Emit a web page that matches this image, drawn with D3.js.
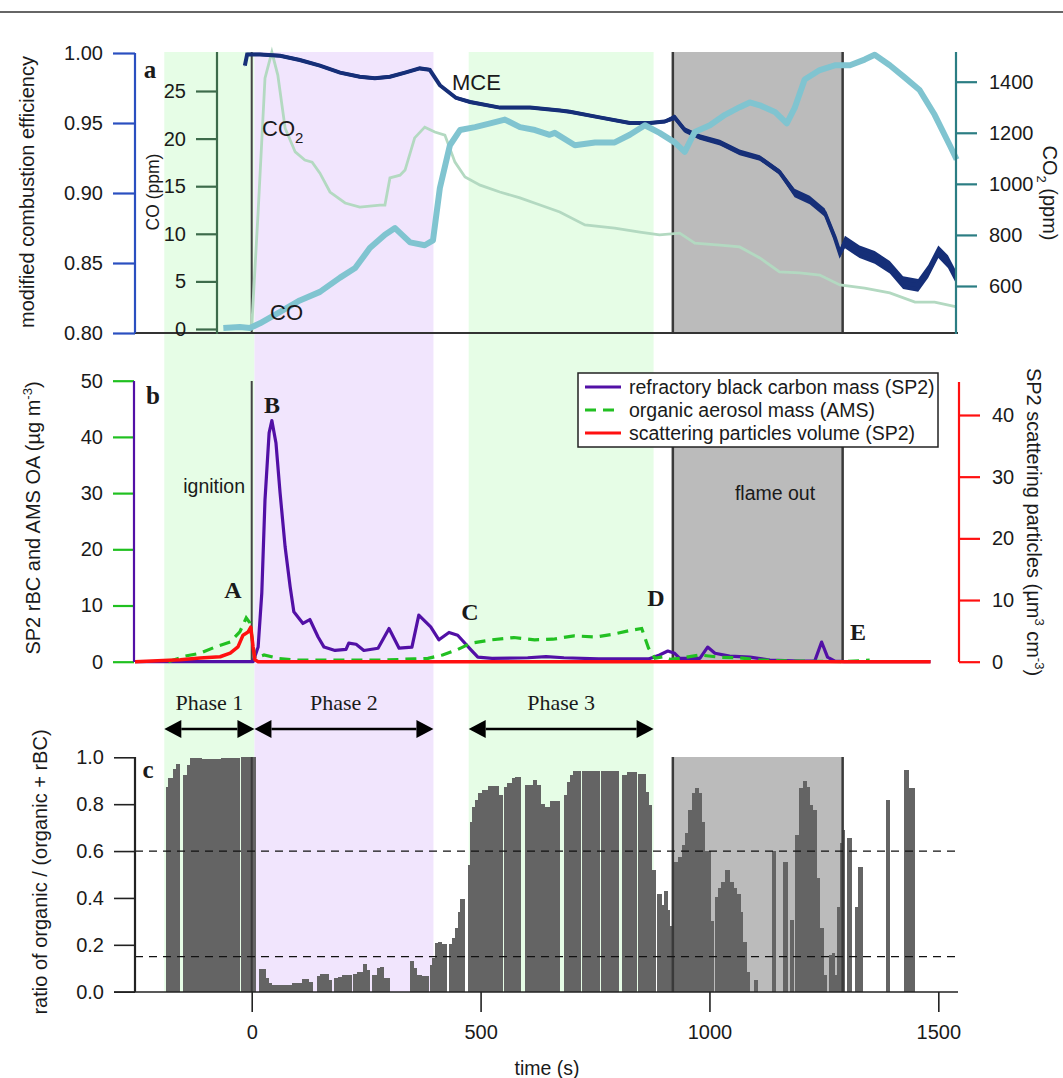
<!DOCTYPE html>
<meta charset="utf-8">
<head>
<title>Combustion phases</title>
<script src="https://cdnjs.cloudflare.com/ajax/libs/d3/7.8.5/d3.min.js"></script>
<style>
  body { margin: 0; background: #fff; }
  svg text { font-family: "Liberation Sans", Arial, sans-serif; fill: #1a1a1a; }
  svg text.serif { font-family: "Liberation Serif", "Times New Roman", serif; font-weight: bold; }
</style>
</head>
<body>
<div id="chart"></div>
<script>
// ---- data ----
// panel a: modified combustion efficiency, CO and CO2 vs time (s)
var mceT = [-15,-10,18,62,105,149,193,236,269,302,335,367,389,411,446,477,542,608,673,695,760,826,870,902,924,946,979,1023,1066,1110,1153,1186,1219,1252,1274,1285,1296,1328,1361,1394,1423,1456,1478,1500,1521,1537];
var mceV = [0.991,0.999,0.999,0.998,0.995,0.991,0.986,0.983,0.982,0.983,0.986,0.989,0.988,0.977,0.968,0.965,0.961,0.961,0.959,0.958,0.954,0.950,0.950,0.951,0.954,0.945,0.940,0.936,0.929,0.925,0.915,0.900,0.895,0.886,0.868,0.857,0.865,0.858,0.854,0.847,0.836,0.834,0.844,0.858,0.851,0.841];
// spread of the noisy MCE trace (MCE units)
var mceNoise = [0.0012,0.0012,0.0012,0.0012,0.0012,0.0012,0.0012,0.0012,0.0012,0.0012,0.0012,0.0012,0.0012,0.0012,0.0012,0.0012,0.0012,0.0012,0.0012,0.0012,0.0012,0.0012,0.0012,0.0012,0.002,0.002,0.002,0.002,0.002,0.002,0.002,0.003,0.003,0.003,0.003,0.003,0.0045,0.0045,0.0045,0.0045,0.0045,0.0045,0.0045,0.0045,0.0045,0.0045];

var coT = [-62,-26,-4,18,62,105,149,193,226,258,291,313,346,378,396,411,433,455,488,521,553,586,619,651,662,706,750,793,826,859,891,924,946,968,1001,1034,1066,1088,1110,1143,1169,1186,1208,1241,1274,1307,1339,1361,1394,1427,1459,1492,1525,1540];
var coV = [0.1,0.2,0.1,0.6,1.8,3.0,3.9,5.4,6.4,8.5,9.9,10.6,9.1,8.8,9.3,14.8,19.3,20.9,21.2,21.6,22.0,21.2,20.9,20.4,20.6,19.3,19.6,19.6,20.4,21.4,20.6,19.6,18.6,20.7,21.4,22.5,23.3,23.8,23.5,22.8,21.6,23.2,26.2,27.2,27.7,27.7,28.3,28.8,27.7,26.4,25.1,22.5,19.3,17.8];

var co2T = [0,14,29,44,57,73,95,116,132,149,171,204,236,280,291,302,324,335,356,378,400,422,444,466,499,542,586,630,673,728,793,848,891,935,968,1023,1066,1110,1153,1197,1241,1285,1339,1394,1449,1492,1540];
var co2V = [440,890,1414,1516,1426,1218,1125,1093,1085,1042,968,925,909,917,917,1023,1034,1054,1180,1222,1203,1191,1085,1027,995,968,945,917,890,839,827,811,800,807,768,760,753,710,655,651,643,604,592,573,537,537,518];

// panel b: rBC, OA (ug m-3) and scattering particle volume (um3 cm-3)
var rbcT = [-255,3,14,22,29,38,44,53,62,73,84,92,112,127,145,158,182,206,212,228,245,276,300,322,350,365,391,409,431,450,479,494,525,603,643,682,758,867,891,909,924,935,979,996,1012,1044,1088,1132,1197,1230,1245,1258,1274,1295,1483];
var rbcV = [0,0,2.6,12.2,28.8,40.7,42.9,38.9,30,20.4,13.3,8.9,6.8,7.5,4.4,2.6,2.0,2.2,3.3,3.1,2.0,2.4,5.9,2.4,2.6,8.3,6.2,3.9,5.2,4.7,2.1,0.8,0.6,0.7,0.9,0.7,0.5,0.5,1.2,1.9,1.5,0.6,0.6,2.6,1.5,1.0,0.8,0.3,0.1,0.1,3.5,0.8,0.1,0,0];

var oaT = [-182,-146,-113,-80,-47,-26,-12,-4,7,27,57,97,182,291,354,385,417,448,479,525,573,618,658,704,752,791,828,852,867,881,900,915,935,979,1022,1066,1110,1197,1295,1350];
var oaV = [0,1.0,1.5,2.6,3.5,5.3,7.8,6.9,0.6,1.2,0.6,0.3,0.3,0.3,0.5,0.6,1.2,2.1,3.3,3.9,4.3,3.9,4.0,4.6,4.4,4.9,5.6,5.9,2.4,0.6,0.9,0.4,0.6,1.2,0.8,0.7,0.3,0.1,0,0.3];

var scatT = [-255,-156,-113,-69,-47,-30,-19,-8,-2,3,7,14,1483];
var scatV = [0,0.3,0.6,0.8,1.4,2.4,4.3,4.8,5.6,2.4,0.3,0,0];

// panel c: ratio organic / (organic + rBC), bars as [start s, end s, ratio]
var ratioBars = [
  [-188,-182,0.875],[-182,-173,0.91],[-173,-166,0.95],[-166,-157,0.97],
  [-151,-142,0.925],[-142,-135,0.967],[-135,-111,0.995],
  [-108,-69,0.993],[-67,-28,0.995],[-24,7,1.0],
  [16,29,0.097],[29,36,0.057],[36,44,0.036],[44,57,0.028],
  [58,87,0.028],[87,109,0.035],[109,124,0.053],[124,133,0.043],
  [142,149,0.068],[149,167,0.074],[167,175,0.05],
  [180,189,0.057],[189,197,0.064],[197,218,0.071],
  [222,229,0.074],[229,244,0.085],[244,251,0.12],[251,258,0.092],
  [262,273,0.071],[273,280,0.1],[280,287,0.107],[287,300,0.057],
  [346,353,0.13],[353,360,0.1],[360,371,0.071],[371,386,0.068],
  [389,394,0.114],[394,400,0.142],[400,408,0.206],[408,415,0.213],[415,426,0.202],
  [431,437,0.202],[437,444,0.228],[444,450,0.27],[450,455,0.34],[455,464,0.395],
  [472,477,0.54],[477,482,0.725],[482,488,0.79],[488,495,0.818],[495,502,0.846],[502,517,0.86],[517,539,0.879],[539,548,0.84],
  [552,557,0.875],[557,568,0.89],[568,576,0.91],[576,588,0.917],
  [597,615,0.88],[615,622,0.903],[622,630,0.88],[630,640,0.8],[640,651,0.79],[651,672,0.815],
  [682,688,0.84],[688,695,0.896],[695,702,0.925],[702,717,0.943],
  [721,759,0.94],[763,801,0.942],
  [808,819,0.925],[819,841,0.936],
  [844,859,0.927],[859,866,0.853],[866,873,0.797],[873,883,0.52],
  [886,895,0.415],[895,901,0.37],[901,908,0.43],[908,913,0.35],[913,921,0.28],
  [923,932,0.555],[932,939,0.576],[939,946,0.626],[946,953,0.676],[953,961,0.775],[961,968,0.846],[968,975,0.868],[975,983,0.846],[983,990,0.725],[990,1001,0.6],[1001,1008,0.3],
  [1012,1019,0.405],[1019,1026,0.441],[1026,1034,0.47],[1034,1044,0.52],[1044,1052,0.47],[1052,1059,0.441],[1059,1068,0.415],[1068,1073,0.34],[1073,1081,0.213],[1081,1088,0.085],
  [1097,1105,0.05],
  [1137,1145,0.6],[1161,1170,0.555],[1175,1184,0.306],
  [1186,1196,0.67],[1196,1205,0.868],[1205,1211,0.9],[1211,1218,0.875],[1218,1226,0.797],[1226,1233,0.775],[1233,1241,0.484],[1241,1248,0.27],[1248,1255,0.071],
  [1261,1268,0.156],[1268,1274,0.164],[1274,1278,0.071],[1278,1285,0.363],[1285,1292,0.633],[1292,1295,0.69],
  [1301,1310,0.654],[1317,1324,0.363],[1324,1334,0.53],
  [1385,1393,0.818],
  [1426,1434,0.946],[1434,1441,0.868],[1441,1448,0.87]
];
var ratioRefs = [0.6, 0.15];

// burn phases and flame-out period (s)
var phaseNames = ["Phase 1", "Phase 2", "Phase 3"];
var phaseStart = [-191, 6, 474];
var phaseEnd = [6, 397, 878];
var flameOut = [920, 1291];

var mceTicks = [0.80, 0.85, 0.90, 0.95, 1.00];
var coTicks = [0, 5, 10, 15, 20, 25];
var co2Ticks = [600, 800, 1000, 1200, 1400];
var massTicks = [0, 10, 20, 30, 40, 50];
var scatTicks = [0, 10, 20, 30, 40];
var ratioTicks = [0, 0.2, 0.4, 0.6, 0.8, 1.0];
var timeTicks = [0, 500, 1000, 1500];

// ---- layout ----
var w = 1063, h = 1078;
var pa = {top: 52, bottom: 333};
var pb = {top: 381, bottom: 662};
var pc = {top: 757, bottom: 992};

var svg = d3.select("#chart").append("svg").attr("width", w).attr("height", h);

var x = d3.scaleLinear().domain([-255, 1543]).range([135, 958]);
var yMce = d3.scaleLinear().domain([0.8, 1.0]).range([333, 53]);
var yCo = d3.scaleLinear().domain([0, 25]).range([329, 91]);
var yCo2 = d3.scaleLinear().domain([600, 1400]).range([286, 81.7]);
var yMass = d3.scaleLinear().domain([0, 50]).range([661.7, 380.7]);
var yScat = d3.scaleLinear().domain([0, 40]).range([661.7, 415]);
var yRatio = d3.scaleLinear().domain([0, 1]).range([991.7, 757.3]);

// rule at the top of the page
svg.append("line").attr("x1", 0).attr("x2", w).attr("y1", 12).attr("y2", 12)
   .attr("stroke", "#666").attr("stroke-width", 2);

// phase background bands
var bandFill = ["#e6fde6", "#f1e5fd", "#e6fde6"];
svg.selectAll("rect.band").data(phaseNames).enter().append("rect")
   .attr("class", "band")
   .attr("x", function(d, i){ return x(phaseStart[i]); })
   .attr("width", function(d, i){ return x(phaseEnd[i]) - x(phaseStart[i]); })
   .attr("y", pa.top).attr("height", pc.bottom - pa.top)
   .attr("fill", function(d, i){ return bandFill[i]; });

// flame out shading in each panel
[pa, pb, pc].forEach(function(p){
  svg.append("rect").attr("x", x(flameOut[0])).attr("width", x(flameOut[1]) - x(flameOut[0]))
     .attr("y", p.top).attr("height", p.bottom - p.top).attr("fill", "#bbbbbb");
});

function vline(t, p, color, width){
  svg.append("line").attr("x1", x(t)).attr("x2", x(t)).attr("y1", p.top).attr("y2", p.bottom)
     .attr("stroke", color).attr("stroke-width", width);
}

function styleTicks(g, color){
  g.select(".domain").remove();
  g.selectAll(".tick line").attr("stroke", color).attr("stroke-width", 2.2);
  g.selectAll(".tick text").style("font-size", "20px");
}

function axisLine(xp, y1, y2, color){
  svg.append("line").attr("x1", xp).attr("x2", xp).attr("y1", y1).attr("y2", y2)
     .attr("stroke", color).attr("stroke-width", 2.2);
}

function rotTitle(xp, yp, angle, size){
  return svg.append("text").attr("transform", "translate(" + xp + "," + yp + ") rotate(" + angle + ")")
            .attr("text-anchor", "middle").style("font-size", size + "px");
}

// ================= panel a =================
vline(0, pa, "#444", 2);
vline(flameOut[0], pa, "#3a3a3a", 2.5);
vline(flameOut[1], pa, "#3a3a3a", 2.5);

svg.append("path").datum(d3.zip(co2T, co2V))
   .attr("d", d3.line().x(function(d){ return x(d[0]); }).y(function(d){ return yCo2(d[1]); }))
   .attr("fill", "none").attr("stroke", "#b3d9c1").attr("stroke-width", 2.8);

var mceData = d3.zip(mceT, mceV, mceNoise);
svg.append("path").datum(mceData)
   .attr("d", d3.area().x(function(d){ return x(d[0]); })
       .y0(function(d){ return yMce(d[1] - d[2]); }).y1(function(d){ return yMce(d[1] + d[2]); }))
   .attr("fill", "#162f78");
svg.append("path").datum(mceData)
   .attr("d", d3.line().x(function(d){ return x(d[0]); }).y(function(d){ return yMce(d[1]); }))
   .attr("fill", "none").attr("stroke", "#162f78").attr("stroke-width", 4);

svg.append("path").datum(d3.zip(coT, coV))
   .attr("d", d3.line().x(function(d){ return x(d[0]); }).y(function(d){ return yCo(d[1]); }))
   .attr("fill", "none").attr("stroke", "#80c4d0").attr("stroke-width", 6).attr("stroke-linejoin", "round");

// bottom rule of panel a
svg.append("line").attr("x1", 135).attr("x2", 958).attr("y1", pa.bottom).attr("y2", pa.bottom)
   .attr("stroke", "#333").attr("stroke-width", 1.8);

var gMce = svg.append("g").attr("transform", "translate(135,0)")
   .call(d3.axisLeft(yMce).tickValues(mceTicks).tickFormat(d3.format(".2f")).tickSize(22).tickPadding(10));
styleTicks(gMce, "#2a4fc0");
axisLine(135, 53, 333, "#2a4fc0");

var gCo = svg.append("g").attr("transform", "translate(217,0)")
   .call(d3.axisLeft(yCo).tickValues(coTicks).tickSize(21).tickPadding(10));
styleTicks(gCo, "#3d6b4b");
axisLine(217, 52, 334, "#3d6b4b");

var gCo2 = svg.append("g").attr("transform", "translate(956,0)")
   .call(d3.axisRight(yCo2).tickValues(co2Ticks).tickFormat(d3.format("d")).tickSize(21).tickPadding(12));
styleTicks(gCo2, "#2b7d83");
axisLine(956, 52, 334, "#2b7d83");

rotTitle(34, 192, -90, 20).text("modified combustion efficiency");
rotTitle(159, 192, -90, 17.5).text("CO (ppm)");
var t2 = rotTitle(1043, 193, 90, 20);
t2.append("tspan").text("CO");
t2.append("tspan").attr("dy", 6).style("font-size", "13px").text("2");
t2.append("tspan").attr("dy", -6).text(" (ppm)");

svg.append("text").attr("class", "serif").attr("x", 150).attr("y", 78).attr("text-anchor", "middle")
   .style("font-size", "25px").text("a");
svg.append("text").attr("x", 452).attr("y", 90).style("font-size", "22px").text("MCE");
var lab2 = svg.append("text").attr("x", 262).attr("y", 136).style("font-size", "22px");
lab2.append("tspan").text("CO");
lab2.append("tspan").attr("dy", 7).style("font-size", "15px").text("2");
svg.append("text").attr("x", 270).attr("y", 320).style("font-size", "22px").text("CO");

// ================= panel b =================
vline(0, pb, "#444", 2);
vline(flameOut[0], pb, "#3a3a3a", 2.5);
vline(flameOut[1], pb, "#3a3a3a", 2.5);

var lineMass = d3.line().x(function(d){ return x(d[0]); }).y(function(d){ return yMass(d[1]); });
svg.append("path").datum(d3.zip(rbcT, rbcV)).attr("d", lineMass)
   .attr("fill", "none").attr("stroke", "#5210a6").attr("stroke-width", 3.2).attr("stroke-linejoin", "round");
svg.append("path").datum(d3.zip(oaT, oaV)).attr("d", lineMass)
   .attr("fill", "none").attr("stroke", "#22c022").attr("stroke-width", 3.2).attr("stroke-dasharray", "11,7");
svg.append("path").datum(d3.zip(scatT, scatV))
   .attr("d", d3.line().x(function(d){ return x(d[0]); }).y(function(d){ return yScat(d[1]); }))
   .attr("fill", "none").attr("stroke", "#ff1010").attr("stroke-width", 3.5).attr("stroke-linejoin", "round");

var gMass = svg.append("g").attr("transform", "translate(134,0)")
   .call(d3.axisLeft(yMass).tickValues(massTicks).tickSize(21).tickPadding(10));
styleTicks(gMass, "#20c020");
axisLine(134, 381, 662, "#5210a6");

var gScat = svg.append("g").attr("transform", "translate(959,0)")
   .call(d3.axisRight(yScat).tickValues(scatTicks).tickSize(21).tickPadding(12));
styleTicks(gScat, "#ff1010");
axisLine(959, 382, 662, "#ff1010");

var tb = rotTitle(40, 518, -90, 20);
tb.append("tspan").text("SP2 rBC and AMS OA (\u00b5g m");
tb.append("tspan").attr("dy", -8).style("font-size", "13px").text("-3");
tb.append("tspan").attr("dy", 8).text(")");
var tr = rotTitle(1027, 522, 90, 20);
tr.append("tspan").text("SP2 scattering particles (\u00b5m");
tr.append("tspan").attr("dy", -8).style("font-size", "13px").text("3");
tr.append("tspan").attr("dy", 8).text(" cm");
tr.append("tspan").attr("dy", -8).style("font-size", "13px").text("-3");
tr.append("tspan").attr("dy", 8).text(")");

// legend
var legNames = ["refractory black carbon mass (SP2)", "organic aerosol mass (AMS)", "scattering particles volume (SP2)"];
var legColor = ["#5210a6", "#22c022", "#ff1010"];
var legDash = [null, "11,7", null];
var leg = svg.append("g");
leg.append("rect").attr("x", 578).attr("y", 373).attr("width", 360).attr("height", 74)
   .attr("fill", "#fff").attr("stroke", "#222").attr("stroke-width", 1.5);
legNames.forEach(function(name, i){
  var yy = 387 + i * 23;
  leg.append("line").attr("x1", 585).attr("x2", 621).attr("y1", yy).attr("y2", yy)
     .attr("stroke", legColor[i]).attr("stroke-width", 3.2).attr("stroke-dasharray", legDash[i]);
  leg.append("text").attr("x", 629).attr("y", yy + 7).style("font-size", "19.5px").text(name);
});

svg.append("text").attr("class", "serif").attr("x", 153).attr("y", 404).attr("text-anchor", "middle")
   .style("font-size", "25px").text("b");
var letters = [["A", 233, 598], ["B", 272, 413], ["C", 470, 620], ["D", 656, 606], ["E", 858, 640]];
letters.forEach(function(l){
  svg.append("text").attr("class", "serif").attr("x", l[1]).attr("y", l[2]).attr("text-anchor", "middle")
     .style("font-size", "24px").text(l[0]);
});
svg.append("text").attr("x", 245).attr("y", 493).attr("text-anchor", "end").style("font-size", "19.5px").text("ignition");
svg.append("text").attr("x", 775).attr("y", 500).attr("text-anchor", "middle").style("font-size", "19.5px").text("flame out");

// phase arrows
phaseNames.forEach(function(name, i){
  var x0 = x(phaseStart[i]), x1 = x(phaseEnd[i]), ya = 729, hl = 17, hh = 9;
  svg.append("line").attr("x1", x0 + hl).attr("x2", x1 - hl).attr("y1", ya).attr("y2", ya)
     .attr("stroke", "#000").attr("stroke-width", 2.5);
  svg.append("path").attr("d", "M" + x0 + "," + ya + "L" + (x0 + hl) + "," + (ya - hh) + "L" + (x0 + hl) + "," + (ya + hh) + "Z").attr("fill", "#000");
  svg.append("path").attr("d", "M" + x1 + "," + ya + "L" + (x1 - hl) + "," + (ya - hh) + "L" + (x1 - hl) + "," + (ya + hh) + "Z").attr("fill", "#000");
  svg.append("text").attr("class", "serif").attr("x", (x0 + x1) / 2).attr("y", 710).attr("text-anchor", "middle")
     .style("font-size", "22px").style("font-weight", "normal").text(name);
});

// ================= panel c =================
svg.selectAll("rect.bar").data(ratioBars).enter().append("rect")
   .attr("class", "bar")
   .attr("x", function(d){ return x(d[0]); })
   .attr("width", function(d){ return x(d[1]) - x(d[0]) + 0.6; })
   .attr("y", function(d){ return yRatio(d[2]); })
   .attr("height", function(d){ return yRatio(0) - yRatio(d[2]); })
   .attr("fill", "#646464").attr("shape-rendering", "crispEdges");

vline(0, pc, "#3a3a3a", 2);
vline(flameOut[0], pc, "#3a3a3a", 2.5);
vline(flameOut[1], pc, "#3a3a3a", 2.5);

ratioRefs.forEach(function(r){
  svg.append("line").attr("x1", 135).attr("x2", 958).attr("y1", yRatio(r)).attr("y2", yRatio(r))
     .attr("stroke", "#111").attr("stroke-width", 1.3).attr("stroke-dasharray", "8,6");
});

var gRatio = svg.append("g").attr("transform", "translate(135,0)")
   .call(d3.axisLeft(yRatio).tickValues(ratioTicks).tickFormat(d3.format(".1f")).tickSize(21).tickPadding(10));
styleTicks(gRatio, "#222");
gRatio.selectAll(".tick line").attr("stroke-width", 1.6);
axisLine(135, 757, 992, "#222");

var gTime = svg.append("g").attr("transform", "translate(0," + pc.bottom + ")")
   .call(d3.axisBottom(x).tickValues(timeTicks).tickFormat(d3.format("d")).tickSize(20).tickPadding(13));
styleTicks(gTime, "#222");
gTime.selectAll(".tick line").attr("stroke-width", 1.6);
svg.append("line").attr("x1", 114).attr("x2", 958).attr("y1", pc.bottom).attr("y2", pc.bottom)
   .attr("stroke", "#222").attr("stroke-width", 1.6);

rotTitle(47, 872, -90, 20).text("ratio of organic / (organic + rBC)");
svg.append("text").attr("x", 547).attr("y", 1075).attr("text-anchor", "middle").style("font-size", "19.5px").text("time (s)");
svg.append("text").attr("class", "serif").attr("x", 148).attr("y", 778).attr("text-anchor", "middle")
   .style("font-size", "25px").text("c");
</script>
</body>
